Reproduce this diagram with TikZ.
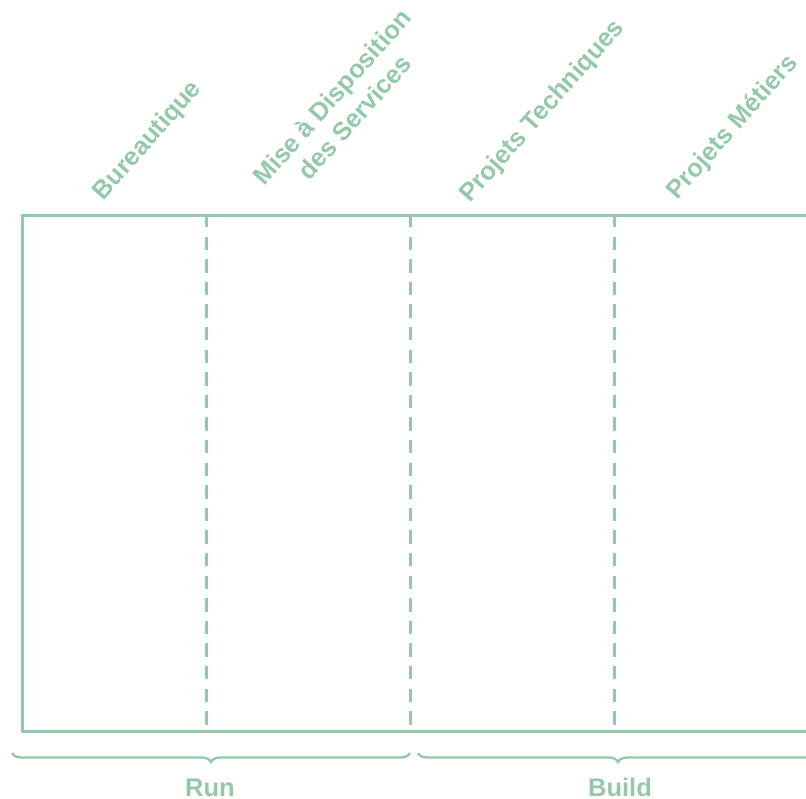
\documentclass[tikz,border=0pt]{standalone}
\usepackage{fontspec}
\setmainfont{Liberation Sans}
\usetikzlibrary{decorations.pathreplacing}
\definecolor{sage}{RGB}{147,201,168}
\tikzset{
  lbl/.style={text=sage, font=\fontsize{25.5}{30.5}\selectfont\bfseries, inner sep=0pt, align=center},
  rlbl/.style={lbl, rotate=48.5},
  frame/.style={draw=sage, line width=3pt},
  divider/.style={draw=sage, line width=3pt, dash pattern=on 13.3pt off 9.3pt},
  bracer/.style={draw=sage, line width=2.4pt, decorate, decoration={brace, mirror, amplitude=9pt}}
}
\begin{document}
\begin{tikzpicture}[x=1pt, y=-1pt]
\useasboundingbox (0,0) rectangle (806,798);
\clip (0,0) rectangle (806,798);
% frame
\node[frame, minimum width=820pt, minimum height=516pt, anchor=north west, inner sep=0pt] (box) at (21,214) {};
% dividers
\foreach \x/\n in {206/a,410/b,614/c}{
  \coordinate (top\n) at (\x,214);
  \coordinate (bot\n) at (\x,730);
  \path[divider] (top\n) -- (bot\n);
}
% column headings
\node[rlbl] (tBur) at (148,141) {Bureautique};
\node[rlbl] (tMise) at (343,107) {Mise à Disposition\\des Services};
\node[rlbl] (tTech) at (543,111.5) {Projets Techniques};
\node[rlbl] (tMet) at (733,127.5) {Projets Métiers};
% braces
\coordinate (r1) at (12,753);
\coordinate (r2) at (410,753);
\coordinate (b1) at (418,753);
\coordinate (b2) at (818,753);
\path[bracer] (r1) -- (r2);
\path[bracer] (b1) -- (b2);
\node[lbl, anchor=base] (run) at (210,796) {Run};
\node[lbl, anchor=base] (build) at (620,796) {Build};
\end{tikzpicture}
\end{document}
